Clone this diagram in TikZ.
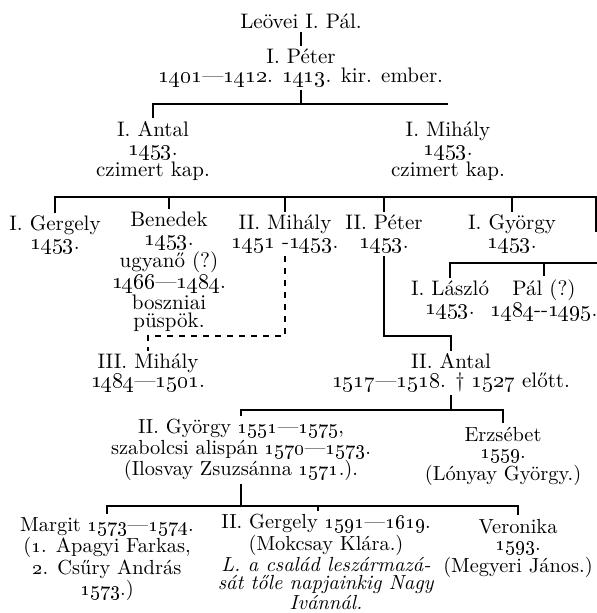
\documentclass[tikz,border=0pt]{standalone}
\usetikzlibrary{positioning}

\newcommand{\yr}[1]{\oldstylenums{#1}}

\tikzset{
    person/.style={
        align=center, inner sep=1.5pt, font=\fontsize{10.5}{9.3}\selectfont
    },
    lowperson/.style={
        align=center, inner sep=1.5pt, font=\fontsize{10.2}{8.9}\selectfont
    },
    link/.style={
        line width=0.6pt
    }
}

\begin{document}
\begin{tikzpicture}[x=0.5pt, y=-0.5pt]
    \useasboundingbox (0,0) rectangle (597,613);

    % First generations
    \node[person] (pal) at (301,21) {Leövei I. Pál.};
    \node[person, below=7pt of pal] (peter1) {I. Péter\\\yr{1401}—\yr{1412}. \yr{1413}. kir. ember.};
    \node[person] (antal1) at (153,151) {I. Antal\\\yr{1453}.\\czimert kap.};
    \node[person] (mihaly1) at (448,151) {I. Mihály\\\yr{1453}.\\czimert kap.};

    % Children
    \node[person] (gergely1) at (55,235) {I. Gergely\\\yr{1453}.};
    \node[person] (benedek) at (169,272) {Benedek\\\yr{1453}.\\ugyanő (?)\\\yr{1466}—\yr{1484}.\\boszniai\\püspök.};
    \node[person] (mihaly2) at (285,234) {II. Mihály\\\yr{1451} -\yr{1453}.};
    \node[person] (peter2) at (384,234) {II. Péter\\\yr{1453}.};
    \node[person] (gyorgy1) at (512,234) {I. György\\\yr{1453}.};
    \node[person] (laszlo) at (450,300) {I. László\\\yr{1453}.};
    \node[person] (pal2) at (544,300) {Pál (?)\\\yr{1484}-{}-\yr{1495}.};

    % Grandchildren
    \node[person] (mihaly3) at (148,373) {III. Mihály\\\yr{1484}—\yr{1501}.};
    \node[person] (antal2) at (451,373) {II. Antal\\\yr{1517}—\yr{1518}. \textdagger\ \yr{1527} előtt.};
    \node[lowperson] (gyorgy2) at (241,450) {II. György \yr{1551}—\yr{1575},\\szabolcsi alispán \yr{1570}—\yr{1573}.\\(Ilosvay Zsuzsánna \yr{1571}.).};
    \node[lowperson] (erzsebet) at (503,456) {Erzsébet\\\yr{1559}.\\(Lónyay György.)};

    % Last generation
    \node[lowperson] (margit) at (107,559) {Margit \yr{1573}—\yr{1574}.\\(\yr{1}. Apagyi Farkas,\\\yr{2}. Csűry András\\\yr{1573}.)};
    \node[lowperson] (gergely2) at (326,562) {II. Gergely \yr{1591}—\yr{1619}.\\(Mokcsay Klára.)\\\textit{L. a család leszármazá-}\\\textit{sát tőle napjainkig Nagy}\\\textit{Ivánnál.}};
    \node[lowperson] (veronika) at (518,548) {Veronika\\\yr{1593}.\\(Megyeri János.)};

    % Connectors
    \coordinate (b1) at (301,104);
    \coordinate (b2) at (596,197);
    \coordinate (b3) at (148,336);
    \coordinate (b4) at (451,336);
    \coordinate (b5) at (597,263);
    \coordinate (b6) at (451,410);
    \coordinate (b7) at (241,506);

    \draw[link] (pal) -- (peter1);
    \draw[link] (peter1) -- (b1);
    \draw[link] (antal1) |- (mihaly1 |- b1);
    \draw[link] (gergely1) |- (b2) -- ++(0,35);
    \foreach \n in {benedek, mihaly2, peter2, gyorgy1}
        \draw[link] (\n) -- (\n |- b2);
    \draw[link, dashed] (mihaly2) |- (b3) -- (mihaly3);
    \draw[link] (peter2) |- (b4) -- (antal2);
    \draw[link] (laszlo) |- (b5);
    \draw[link] (pal2) -- (pal2 |- b5);
    \draw[link] (antal2) -- (b6);
    \draw[link] (gyorgy2) |- (erzsebet |- b6) -- (erzsebet);
    \draw[link] (gyorgy2) -- (b7);
    \draw[link] (margit) |- (veronika |- b7) -- (veronika);
    \draw[link] ([xshift=-4pt]gergely2.north) -- ([xshift=-4pt]gergely2.north |- b7);

\end{tikzpicture}
\end{document}
